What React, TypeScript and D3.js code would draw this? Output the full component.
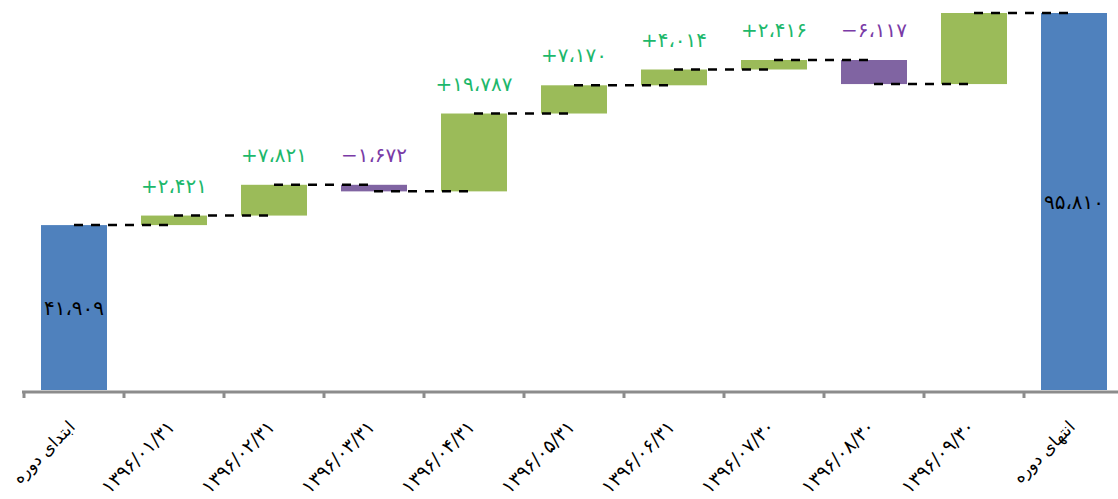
import React from "react";
import * as d3 from "d3";

// categories (Persian dates), first and last are totals
const categories = [
	"ابتدای دوره",
	"۱۳۹۶/۰۱/۳۱",
	"۱۳۹۶/۰۲/۳۱",
	"۱۳۹۶/۰۳/۳۱",
	"۱۳۹۶/۰۴/۳۱",
	"۱۳۹۶/۰۵/۳۱",
	"۱۳۹۶/۰۶/۳۱",
	"۱۳۹۶/۰۷/۳۰",
	"۱۳۹۶/۰۸/۳۰",
	"۱۳۹۶/۰۹/۳۰",
	"انتهای دوره",
];

const startValue = 41.909;
const deltas = [2.421, 7.821, -1.672, 19.787, 7.17, 4.014, 2.416, -6.117, 18.061];
const endValue = 95.81;

const W = 1118;
const H = 499;

const BLUE = "#4F81BD";
const GREEN = "#9BBB59";
const PURPLE = "#8064A2";
const GREEN_TXT = "#1DB86B";
const PURPLE_TXT = "#7A3BA6";

const faDigits = "۰۱۲۳۴۵۶۷۸۹";
const toFa = (s: string) => s.replace(/[0-9]/g, (d) => faDigits[+d]).replace(".", "،");
const fmt = (v: number) => toFa(Math.abs(v).toFixed(3));

type Step = { cat: string; y0: number; y1: number; kind: "total" | "up" | "down"; value: number };

const steps: Step[] = [];
let run = startValue;
steps.push({ cat: categories[0], y0: 0, y1: startValue, kind: "total", value: startValue });
deltas.forEach((d, i) => {
	steps.push({ cat: categories[i + 1], y0: run, y1: run + d, kind: d >= 0 ? "up" : "down", value: d });
	run += d;
});
steps.push({ cat: categories[categories.length - 1], y0: 0, y1: endValue, kind: "total", value: endValue });

const x = d3.scaleBand<string>().domain(categories).range([24, 1124]).paddingInner(0.34).paddingOuter(0.17);
const y = d3.scaleLinear().domain([0, 95.81]).range([390, 13]);

const App: React.FC = () => {
	const bw = x.bandwidth();
	const step = x.step();
	const off = (step - bw) / 2;
	const font = "'DejaVu Sans', sans-serif";

	return (
		<svg width={W} height={H} style={{ position: "absolute", left: 0, top: 0, background: "#fff" }}>
			{/* bars */}
			{steps.map((s) => {
				const top = y(Math.max(s.y0, s.y1));
				const bot = y(Math.min(s.y0, s.y1));
				const fill = s.kind === "total" ? BLUE : s.kind === "up" ? GREEN : PURPLE;
				return (
					<rect key={s.cat} x={x(s.cat)} y={top} width={bw} height={Math.max(bot - top, 1)} fill={fill} />
				);
			})}

			{/* connectors */}
			{steps.slice(0, -1).map((s, i) => {
				const next = steps[i + 1];
				const level = s.y1;
				return (
					<line
						key={"c" + i}
						x1={(x(s.cat) as number) + bw / 2}
						x2={(x(next.cat) as number) + bw / 2}
						y1={y(level)}
						y2={y(level)}
						stroke="#000"
						strokeWidth={2.5}
						strokeDasharray="9,8"
					/>
				);
			})}

			{/* axis */}
			<line x1={22} x2={W} y1={392} y2={392} stroke="#8c8c8c" strokeWidth={3} />
			{categories.map((c) => (
				<line key={"t" + c} x1={(x(c) as number) - off} x2={(x(c) as number) - off} y1={391} y2={398} stroke="#8c8c8c" strokeWidth={3} />
			))}

			{/* category labels */}
			{categories.map((c, i) => {
				const cx = (x(c) as number) + bw / 2 + 2;
				const cy = 428;
				const isTotal = i === 0 || i === categories.length - 1;
				return (
					<text
						key={"l" + c}
						transform={`translate(${cx},${cy}) rotate(-45)`}
						textAnchor="end"
						fontFamily={font}
						fontSize={isTotal ? 17 : 19}
						letterSpacing={isTotal ? 0 : 1.5}
						fill="#000"
					>
						{c}
					</text>
				);
			})}

			{/* value labels */}
			{steps.map((s) => {
				const cx = (x(s.cat) as number) + bw / 2;
				if (s.kind === "total") {
					return (
						<text key={"v" + s.cat} x={cx} y={(y(s.y1) + y(0)) / 2 + 7} textAnchor="middle" fontFamily={font} fontSize={20} fill="#000">
							{fmt(s.value)}
						</text>
					);
				}
				const top = y(Math.max(s.y0, s.y1));
				return (
					<text
						key={"v" + s.cat}
						x={cx}
						y={top - 23}
						textAnchor="middle"
						fontFamily={font}
						fontSize={20}
						fill={s.kind === "up" ? GREEN_TXT : PURPLE_TXT}
						direction="ltr"
					>
						{(s.value >= 0 ? "+" : "−") + fmt(s.value)}
					</text>
				);
			})}
		</svg>
	);
};

export default App;
